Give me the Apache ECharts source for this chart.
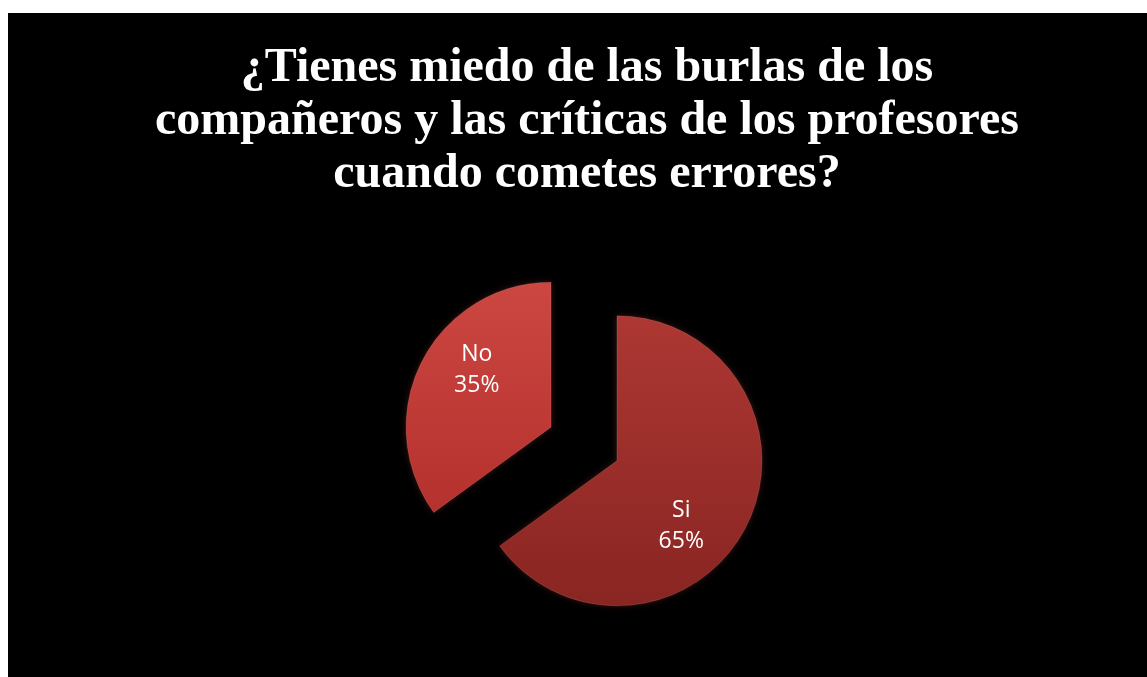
<!DOCTYPE html>
<html>
<head>
    <meta charset="utf-8">
    <title>Miedo a las burlas</title>
    <script src="https://cdn.jsdelivr.net/npm/echarts@6/dist/echarts.min.js"></script>
    <style type="text/css">
        html, body {
            margin: 0;
            padding: 0;
            background: #ffffff;
        }
        #chart {
            position: absolute;
            left: 8px;
            top: 13px;
            width: 1139px;
            height: 664px;
            background: #000000;
        }
    </style>
</head>
<body>
<div id="chart"></div>
<script>
    // datos de la encuesta
    var categorias = ['Si', 'No'];
    var valores = [65, 35];

    // estilo de cada porción (colores y desplazamiento de la etiqueta)
    var colores = [
        ['#ad3733', '#892522'],
        ['#cc4742', '#b5312d']
    ];
    var desplazamientos = [[-3, 31], [-7, -23]];

    var chart = echarts.init(document.getElementById('chart'));

    var datos = [];
    for (var i = 0; i < categorias.length; i++) {
        datos.push({
            name: categorias[i],
            value: valores[i],
            selected: true,
            itemStyle: {
                color: {
                    type: 'linear', x: 0, y: 0, x2: 0, y2: 1,
                    colorStops: [
                        {offset: 0, color: colores[i][0]},
                        {offset: 1, color: colores[i][1]}
                    ]
                }
            }
        });
    }

    var option = {
        backgroundColor: '#000000',
        title: {
            text: '¿Tienes miedo de las burlas de los\ncompañeros y las críticas de los profesores\ncuando cometes errores?',
            left: 574,
            textAlign: 'center',
            top: 24,
            textStyle: {
                color: '#ffffff',
                fontFamily: 'Liberation Serif',
                fontWeight: 'bold',
                fontSize: 48,
                lineHeight: 53
            }
        },
        series: [
            {
                name: 'Respuesta',
                type: 'pie',
                center: [576, 431],
                radius: 145,
                startAngle: 90,
                clockwise: true,
                selectedMode: 'multiple',
                selectedOffset: 37,
                animation: false,
                label: {
                    show: true,
                    position: 'inside',
                    formatter: '{b}\n{d}%',
                    color: '#ffffff',
                    fontFamily: 'Open Sans',
                    fontSize: 23,
                    lineHeight: 31
                },
                labelLayout: function (params) {
                    var d = desplazamientos[params.dataIndex];
                    return {dx: d[0], dy: d[1]};
                },
                itemStyle: {
                    borderColor: 'rgba(255,255,255,0.12)',
                    borderWidth: 1,
                    shadowBlur: 6,
                    shadowColor: 'rgba(255,80,70,0.25)'
                },
                emphasis: {
                    scale: false
                },
                data: datos
            }
        ]
    };
    chart.setOption(option);
</script>
</body>
</html>
